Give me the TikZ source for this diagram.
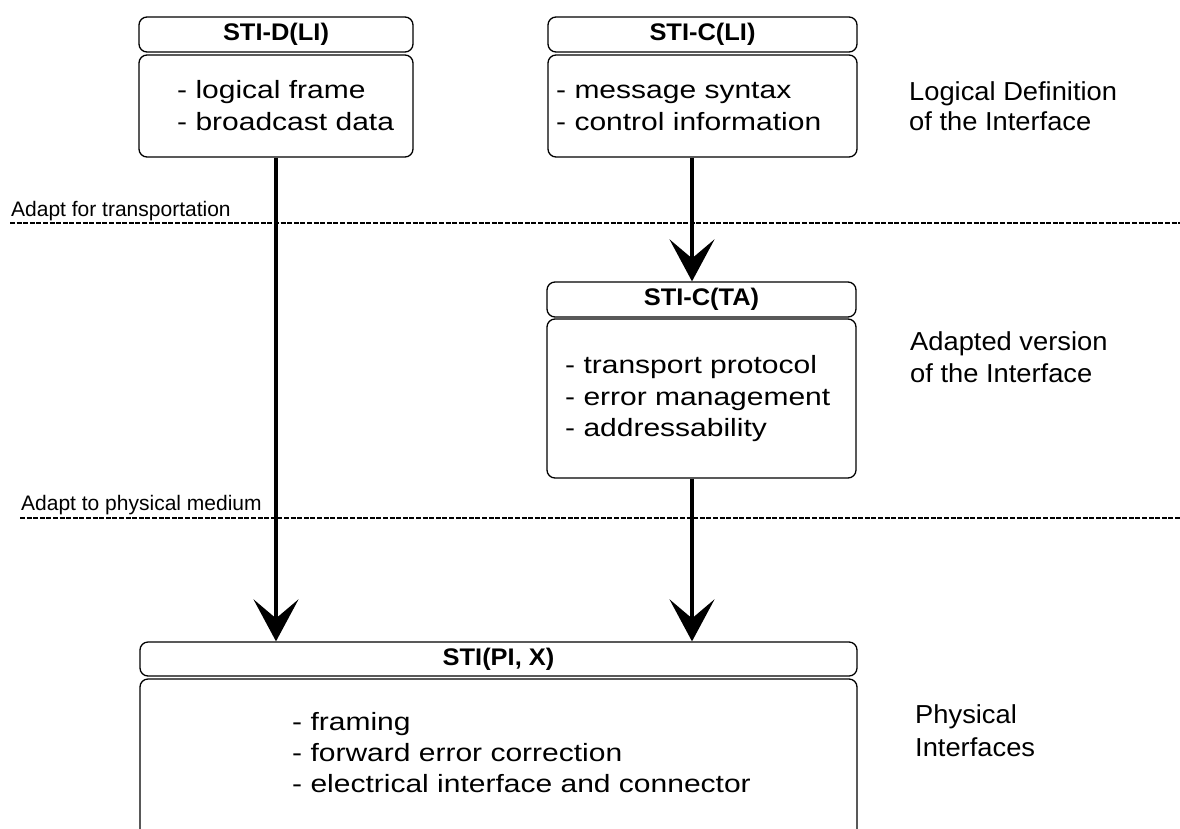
\documentclass[tikz,border=0pt]{standalone}
\usepackage{fontspec}
\setmainfont{Liberation Sans}
\newfontfamily\bodyf[FakeStretch=1.2]{Liberation Sans}
\newfontfamily\sidef[FakeStretch=1.05]{Liberation Sans}
\newfontfamily\headf[FakeStretch=1.06]{Liberation Sans}
\usetikzlibrary{arrows.meta}
\begin{document}
\begin{tikzpicture}[x=1pt,y=-1pt,
  box/.style={draw, line width=1.3pt, rounded corners=8pt, inner sep=0pt},
  headtxt/.style={font=\headf\fontsize{24}{28}\selectfont\bfseries},
  bodytxt/.style={font=\bodyf\fontsize{25}{30}\selectfont, anchor=base west, inner sep=0pt},
  sidetxt/.style={font=\sidef\fontsize{26}{30}\selectfont, anchor=base west, inner sep=0pt},
  smalltxt/.style={font=\fontsize{21}{25}\selectfont, anchor=base west, inner sep=0pt},
  arr/.style={line width=3.2pt, -{Stealth[length=42pt,width=45pt,inset=19pt]}},
  sepline/.style={line width=1.8pt, dash pattern=on 5pt off 1.6pt}
]
\path[use as bounding box] (0,0) rectangle (1180,828);
\clip (0,0) rectangle (1180,828);

% separators
\coordinate (s1a) at (10,223);  \coordinate (s1b) at (1180,223);
\coordinate (s2a) at (20,518);  \coordinate (s2b) at (1180,518);
\draw[sepline] (s1a) -- (s1b);
\draw[sepline] (s2a) -- (s2b);
\node[smalltxt] (s1l) at (11,216) {Adapt for transportation};
\node[smalltxt] (s2l) at (21,510) {Adapt to physical medium};

% STI-D(LI)
\node[box, headtxt, minimum width=274pt, minimum height=35pt] (dhead) at (276,34.5) {STI-D(LI)};
\node[box, minimum width=274pt, minimum height=102pt] (dbody) at (276,106) {};
\node[bodytxt] (d1) at (177,98) {- logical frame};
\node[bodytxt] (d2) at (177,130) {- broadcast data};

% STI-C(LI)
\node[box, headtxt, minimum width=309pt, minimum height=35pt] (chead) at (702.5,34.5) {STI-C(LI)};
\node[box, minimum width=309pt, minimum height=102pt] (cbody) at (702.5,106) {};
\node[bodytxt] (c1) at (556,98) {- message syntax};
\node[bodytxt] (c2) at (556,130) {- control information};

% STI-C(TA)
\node[box, headtxt, minimum width=309pt, minimum height=35pt] (tahead) at (701.5,299.5) {STI-C(TA)};
\node[box, minimum width=309pt, minimum height=159pt] (tabody) at (701.5,398.5) {};
\node[bodytxt] (t1) at (565,373) {- transport protocol};
\node[bodytxt] (t2) at (565,405) {- error management};
\node[bodytxt] (t3) at (565,436) {- addressability};

% STI(PI, X)
\node[box, headtxt, minimum width=717pt, minimum height=34pt] (phead) at (498.5,659) {STI(PI, X)};
\node[box, minimum width=717pt, minimum height=171pt] (pbody) at (498.5,764.5) {};
\node[bodytxt] (p1) at (292,730) {- framing};
\node[bodytxt] (p2) at (292,761) {- forward error correction};
\node[bodytxt] (p3) at (292,792) {- electrical interface and connector};

% side labels
\node[sidetxt] (l1) at (909,100) {Logical Definition};
\node[sidetxt] (l2) at (909,130) {of the Interface};
\node[sidetxt] (a1) at (910,350) {Adapted version};
\node[sidetxt] (a2) at (910,382) {of the Interface};
\node[sidetxt] (q1) at (915,723) {Physical};
\node[sidetxt] (q2) at (915,756) {Interfaces};

% connectors
\coordinate (rx) at (692,0);
\draw[arr] (dbody.south) -- (dbody.south |- phead.north);
\draw[arr] (rx |- cbody.south) -- (rx |- tahead.north);
\draw[arr] (rx |- tabody.south) -- (rx |- phead.north);
\end{tikzpicture}
\end{document}
